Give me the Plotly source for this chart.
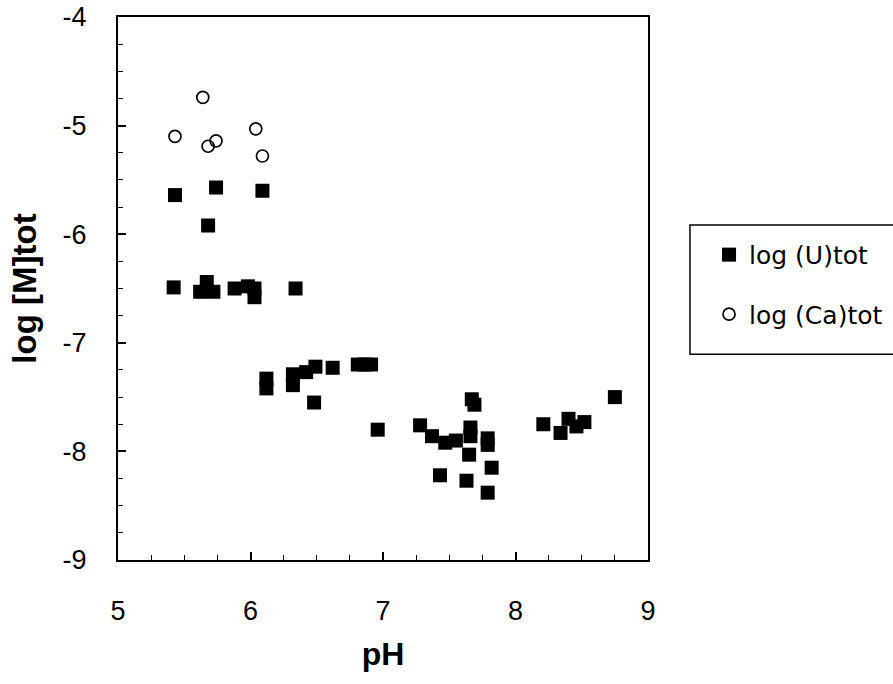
import plotly.graph_objects as go

# Data
u_ph = [5.43, 5.74, 6.09, 5.68, 5.42, 5.62, 5.67, 5.72, 5.88, 5.98, 6.03, 6.03, 6.34,
        6.12, 6.12, 6.32, 6.32, 6.42, 6.49, 6.48, 6.62, 6.81, 6.86, 6.91, 6.96,
        7.28, 7.37, 7.47, 7.55, 7.66, 7.66, 7.67, 7.69, 7.65, 7.79, 7.79,
        7.43, 7.63, 7.82, 7.79, 8.21, 8.34, 8.40, 8.46, 8.52, 8.75]
u_log = [-5.64, -5.57, -5.60, -5.92, -6.49, -6.53, -6.44, -6.53, -6.50, -6.48, -6.50, -6.58, -6.50,
         -7.33, -7.42, -7.29, -7.39, -7.27, -7.22, -7.55, -7.23, -7.20, -7.20, -7.20, -7.80,
         -7.76, -7.86, -7.92, -7.90, -7.78, -7.86, -7.52, -7.57, -8.03, -7.88, -7.94,
         -8.22, -8.27, -8.15, -8.38, -7.75, -7.83, -7.70, -7.77, -7.73, -7.50]

ca_ph = [5.43, 5.64, 5.68, 5.74, 6.04, 6.09]
ca_log = [-5.10, -4.74, -5.19, -5.14, -5.03, -5.28]

x_ticks = [5, 6, 7, 8, 9]
y_ticks = [-4, -5, -6, -7, -8, -9]

fig = go.Figure()
fig.add_trace(go.Scatter(
    x=u_ph, y=u_log, mode="markers", name="log (U)tot", legendgroup="u",
    marker=dict(symbol="square", size=14, color="black", line=dict(width=0)),
))
fig.add_trace(go.Scatter(
    x=ca_ph, y=ca_log, mode="markers", name="log (Ca)tot", legendgroup="ca",
    marker=dict(symbol="circle-open", size=12, color="black", line=dict(width=1.7, color="black")),
))

axis_common = dict(
    showgrid=False, zeroline=False, showline=True, linecolor="black", linewidth=2,
    mirror=True, ticks="inside", ticklen=8, tickwidth=1.5, tickcolor="black",
    automargin=False,
    tickfont=dict(family="Liberation Sans, Arial, sans-serif", size=27, color="black"),
)

fig.update_xaxes(
    range=[5, 9], tickmode="array", tickvals=x_ticks, ticktext=[str(v) for v in x_ticks],
    minor=dict(ticks="inside", tick0=5, dtick=0.25, ticklen=5, tickwidth=1.2, tickcolor="black"),
    ticklabelstandoff=26,
    title=dict(text="<b>pH</b>", font=dict(family="Liberation Sans, Arial, sans-serif", size=32, color="black"),
               standoff=17),
    **axis_common,
)
fig.update_yaxes(
    range=[-9, -4], tickmode="array", tickvals=y_ticks, ticktext=[str(v) for v in y_ticks],
    minor=dict(ticks="inside", tick0=-9, dtick=0.25, ticklen=5, tickwidth=1.2, tickcolor="black"),
    ticklabelstandoff=24,
    title=dict(text="<b>log [M]tot</b>", font=dict(family="Liberation Sans, Arial, sans-serif", size=33, color="black"),
               standoff=16),
    **axis_common,
)

fig.add_shape(type="rect", xref="paper", yref="paper",
              x0=1.0792, x1=1.48, y0=0.379, y1=0.617,
              line=dict(color="black", width=1.5), fillcolor="rgba(0,0,0,0)")

fig.update_layout(
    width=893, height=684,
    margin=dict(l=118, r=245, t=17, b=124, autoexpand=False),
    paper_bgcolor="white", plot_bgcolor="white",
    showlegend=True,
    legend=dict(
        xref="container", yref="container",
        x=0.794, y=0.661, xanchor="left", yanchor="top",
        font=dict(family="DejaVu Sans, sans-serif", size=25, color="black"),
        bgcolor="rgba(0,0,0,0)", borderwidth=0,
        traceorder="grouped", tracegroupgap=24,
    ),
)

fig.write_html("out.html")
